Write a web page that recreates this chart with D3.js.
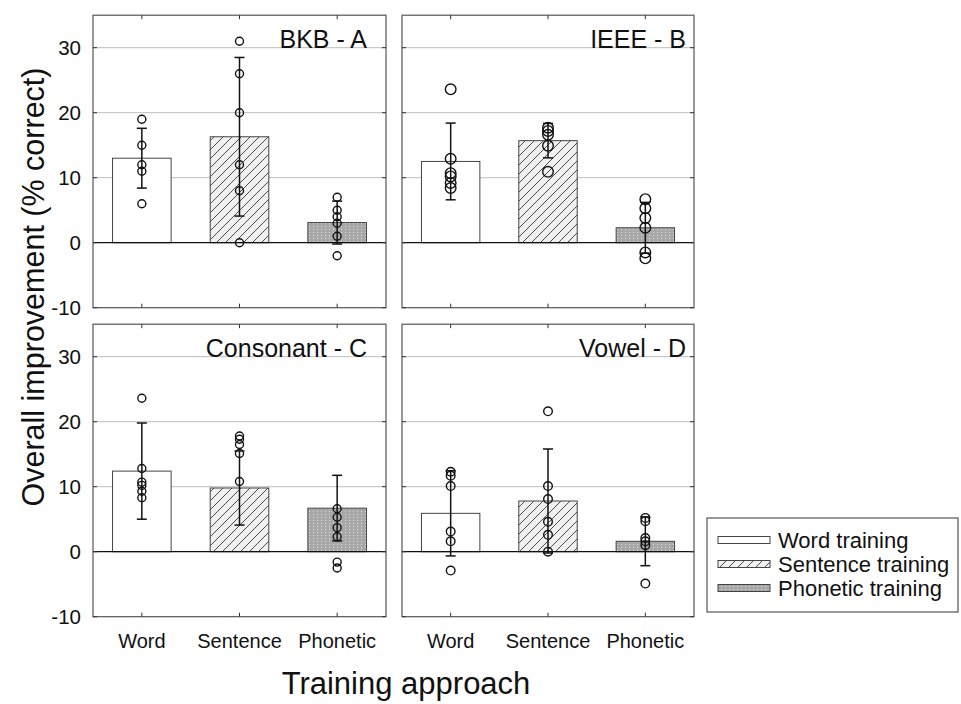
<!DOCTYPE html>
<html><head><meta charset="utf-8">
<script src="https://cdn.jsdelivr.net/npm/d3@7"></script>
<style>body{margin:0;background:#fff}svg{display:block}text{font-family:"Liberation Sans",Arial,sans-serif;fill:#111}</style>
</head><body><svg id="c" width="961" height="704"></svg>
<script>
const categories = ["Word", "Sentence", "Phonetic"];
const panelTitles = ["BKB - A", "IEEE - B", "Consonant - C", "Vowel - D"];
const yTicks = [-10, 0, 10, 20, 30];
const legendLabels = ["Word training", "Sentence training", "Phonetic training"];

const bkbMeans = [13.0, 16.3, 3.1];
const bkbSD = [4.6, 12.2, 3.3];
const bkbPoints = [[19, 15, 12, 11, 6], [31, 26, 20, 12, 8, 0], [7, 5, 4, 3, 1, -2]];

const ieeeMeans = [12.5, 15.7, 2.3];
const ieeeSD = [5.9, 2.65, 3.9];
const ieeePoints = [[23.6, 12.9, 10.7, 10.2, 9.2, 8.4], [17.7, 17.2, 16.6, 14.9, 10.9], [6.7, 5.3, 3.8, 2.3, -1.5, -2.4]];

const consMeans = [12.4, 9.8, 6.7];
const consSD = [7.4, 5.7, 5.05];
const consPoints = [[23.6, 12.8, 10.7, 10.2, 9.3, 8.3], [17.8, 17.3, 16.5, 15.1, 10.8], [6.6, 5.3, 3.7, 2.3, -1.6, -2.5]];

const vowelMeans = [5.9, 7.8, 1.6];
const vowelSD = [6.55, 8.0, 3.75];
const vowelPoints = [[12.3, 11.7, 10.1, 3.1, 1.6, -2.9], [21.6, 10.1, 8.1, 4.6, 2.6, 0], [5.2, 4.7, 2.1, 1.6, 1.0, -4.9]];

const panelData = [
  {title: panelTitles[0], means: bkbMeans, sd: bkbSD, pts: bkbPoints},
  {title: panelTitles[1], means: ieeeMeans, sd: ieeeSD, pts: ieeePoints},
  {title: panelTitles[2], means: consMeans, sd: consSD, pts: consPoints},
  {title: panelTitles[3], means: vowelMeans, sd: vowelSD, pts: vowelPoints}
];

const svg = d3.select("#c");
const defs = svg.append("defs");
const hp = defs.append("pattern").attr("id","hatch").attr("patternUnits","userSpaceOnUse")
  .attr("width",9).attr("height",9);
hp.append("rect").attr("width",9).attr("height",9).attr("fill","#f0f0f0");
hp.append("path").attr("d","M-2,2 l4,-4 M0,9 l9,-9 M7,11 l4,-4").attr("stroke","#222").attr("stroke-width",0.8);
const dp = defs.append("pattern").attr("id","dots").attr("patternUnits","userSpaceOnUse")
  .attr("width",4).attr("height",3);
dp.append("rect").attr("width",4).attr("height",3).attr("fill","#a8a8a8");
dp.append("rect").attr("x",1).attr("y",1).attr("width",1).attr("height",1).attr("fill","#dcdcdc");

const fills = ["#ffffff", "url(#hatch)", "url(#dots)"];

const cols = [[93, 386], [402, 694]];
const rows = [[15.2, 307.7], [324.2, 616.7]];
const radii = [4, 5.3, 4, 4.3];
const FONT = "Liberation Sans, Arial, sans-serif";

panelData.forEach((p, i) => {
  const c = i % 2, r = Math.floor(i / 2);
  const x = d3.scaleBand().domain(categories).range(cols[c]).paddingInner(0.4).paddingOuter(0.2);
  const y = d3.scaleLinear().domain([-10, 35]).range([rows[r][1], rows[r][0]]);
  const g = svg.append("g");
  const [x0, x1] = cols[c];
  g.selectAll("line.grid").data([10, 20, 30]).enter().append("line")
    .attr("x1", x0).attr("x2", x1).attr("y1", d => y(d)).attr("y2", d => y(d))
    .attr("stroke", "#bdbdbd").attr("stroke-width", 1);
  g.selectAll("rect.bar").data(p.means).enter().append("rect")
    .attr("x", (d, k) => x(categories[k])).attr("width", x.bandwidth())
    .attr("y", d => y(Math.max(d, 0))).attr("height", d => Math.abs(y(d) - y(0)))
    .attr("fill", (d, k) => fills[k]).attr("stroke", "#444").attr("stroke-width", 1);
  g.append("line").attr("x1", x0).attr("x2", x1).attr("y1", y(0)).attr("y2", y(0))
    .attr("stroke", "#111").attr("stroke-width", 1.2);
  p.means.forEach((m, k) => {
    const cx = x(categories[k]) + x.bandwidth() / 2;
    const lo = y(m - p.sd[k]), hi = y(m + p.sd[k]);
    g.append("line").attr("x1", cx).attr("x2", cx).attr("y1", lo).attr("y2", hi).attr("stroke", "#111").attr("stroke-width", 1.5);
    [lo, hi].forEach(yy => g.append("line").attr("x1", cx - 5).attr("x2", cx + 5).attr("y1", yy).attr("y2", yy).attr("stroke", "#111").attr("stroke-width", 1.5));
    g.selectAll(null).data(p.pts[k]).enter().append("circle")
      .attr("cx", cx).attr("cy", d => y(d)).attr("r", radii[i])
      .attr("fill", "none").attr("stroke", "#111").attr("stroke-width", 1.4);
  });
  g.append("rect").attr("x", x0).attr("y", rows[r][0]).attr("width", x1 - x0).attr("height", rows[r][1] - rows[r][0])
    .attr("fill", "none").attr("stroke", "#555").attr("stroke-width", 1.2);
  yTicks.forEach(t => {
    g.append("line").attr("x1", x0).attr("x2", x0 + 4).attr("y1", y(t)).attr("y2", y(t)).attr("stroke", "#333");
    g.append("line").attr("x1", x1 - 4).attr("x2", x1).attr("y1", y(t)).attr("y2", y(t)).attr("stroke", "#333");
  });
  categories.forEach(cat => {
    const cx = x(cat) + x.bandwidth() / 2;
    g.append("line").attr("x1", cx).attr("x2", cx).attr("y1", rows[r][0]).attr("y2", rows[r][0] + 4).attr("stroke", "#333");
    g.append("line").attr("x1", cx).attr("x2", cx).attr("y1", rows[r][1] - 4).attr("y2", rows[r][1]).attr("stroke", "#333");
  });
  g.append("text").attr("x", c === 0 ? x1 - 19 : x1 - 8).attr("y", y(35) + 33)
    .attr("text-anchor", "end").attr("font-size", 25).text(p.title);
  if (c === 0) {
    const ax = d3.axisLeft(y).tickValues(yTicks).tickFormat(d => String(d)).tickSize(0).tickPadding(12);
    const a = svg.append("g").attr("transform", `translate(${x0},0)`).call(ax);
    a.select(".domain").remove();
    a.selectAll("text").attr("font-size", 20.5).attr("font-family", FONT).attr("fill", "#111");
  }
  if (r === 1) {
    const ax = d3.axisBottom(x).tickSize(0).tickPadding(17);
    const a = svg.append("g").attr("transform", `translate(0,${rows[r][1]})`).call(ax);
    a.select(".domain").remove();
    a.selectAll("text").attr("font-size", 20).attr("font-family", FONT).attr("fill", "#111");
  }
});

svg.append("text").attr("transform", "translate(44,287) rotate(-90)").attr("text-anchor", "middle")
  .attr("font-size", 30.5).text("Overall improvement (% correct)");
svg.append("text").attr("x", 406).attr("y", 694).attr("text-anchor", "middle")
  .attr("font-size", 31).text("Training approach");

const lg = svg.append("g");
lg.append("rect").attr("x", 707).attr("y", 518).attr("width", 251).attr("height", 94)
  .attr("fill", "#fff").attr("stroke", "#555").attr("stroke-width", 1.2);
legendLabels.forEach((lab, k) => {
  const yy = 540 + k * 24;
  lg.append("rect").attr("x", 718).attr("y", yy - 3.5).attr("width", 52).attr("height", 7)
    .attr("fill", fills[k]).attr("stroke", "#444").attr("stroke-width", 1);
  lg.append("text").attr("x", 778).attr("y", yy).attr("dy", "0.35em").attr("font-size", 22).text(lab);
});
</script></body></html>
